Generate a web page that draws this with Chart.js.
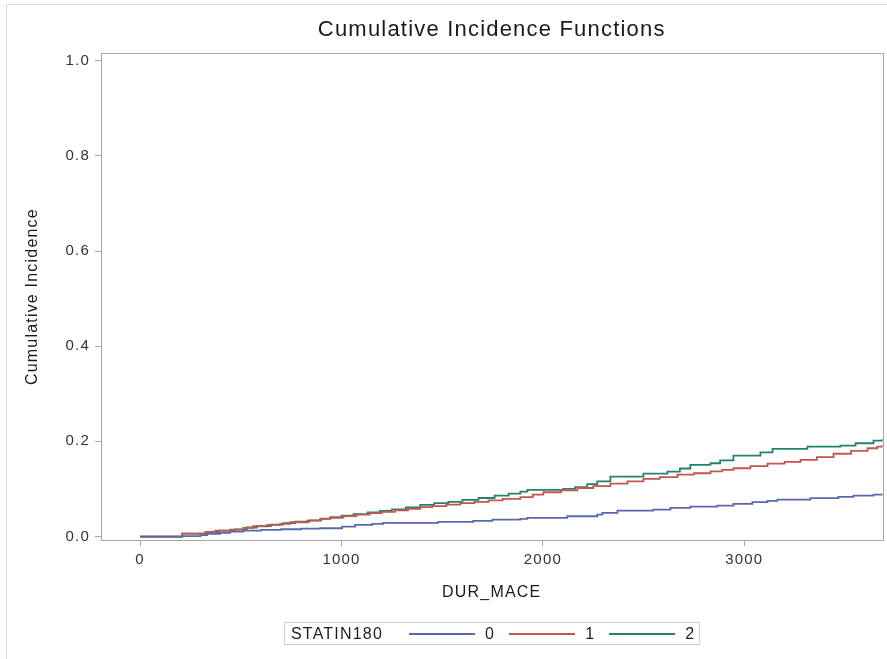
<!DOCTYPE html>
<html lang="en">
<head>
  <meta charset="UTF-8">
  <title>Cumulative Incidence Functions</title>
  <script src="https://cdn.jsdelivr.net/npm/chart.js"></script>
  <style>
    body {
      margin: 0;
      padding: 0;
      background: #fff;
      font-family: "Liberation Sans", Arial, sans-serif;
      overflow: hidden;
    }
    .wrap {
      position: relative;
      width: 887px;
      height: 659px;
    }
    .outer {
      position: absolute;
      left: 6px;
      top: 4px;
      right: 0;
      bottom: 0;
      border-left: 1px solid #d6d6d6;
      border-top: 1px solid #d6d6d6;
    }
    canvas {
      position: absolute;
      left: 0;
      top: 0;
    }
    .legend {
      position: absolute;
      left: 284px;
      top: 622px;
      width: 416px;
      height: 23px;
      border: 1px solid #cfcfcf;
      display: flex;
      align-items: center;
      font-size: 16px;
      letter-spacing: 1.2px;
      color: #222;
      box-sizing: border-box;
    }
    .legend .ttl {
      margin-left: 6px;
      margin-right: 26px;
    }
    .legend .sw {
      display: inline-block;
      width: 66px;
      height: 2px;
      margin-right: 10px;
    }
    .legend .item {
      display: flex;
      align-items: center;
      margin-right: 14px;
    }
  </style>
</head>
<body>
<div class="wrap">
  <div class="outer"></div>
  <canvas id="cif" width="887" height="659"></canvas>
  <div id="legend" class="legend"></div>
</div>

<script>
  // STATIN180 = 0
  const t0 = [0, 209, 300, 333, 397, 447, 512, 600, 700, 800, 894, 1003, 1068, 1153, 1207, 1480, 1654, 1749,
    1888, 1923, 2121, 2270, 2295, 2370, 2548, 2633, 2732, 2866, 2946, 3040, 3115, 3164, 3328, 3467, 3542, 3641, 3686];
  const cif0 = [0, 0.001, 0.003, 0.0057, 0.0078, 0.0105, 0.0126, 0.014, 0.0153, 0.0168, 0.0174, 0.021, 0.0245, 0.0266,
    0.0287, 0.0308, 0.0329, 0.0357, 0.0372, 0.0393, 0.0426, 0.0462, 0.0498, 0.0546, 0.0567, 0.0603, 0.063, 0.0651,
    0.0687, 0.0721, 0.075, 0.0777, 0.0805, 0.0834, 0.0861, 0.0882, 0.0903];

  // STATIN180 = 1
  const t1 = [0, 209, 323, 373, 447, 512, 561, 631, 695, 745, 830, 894, 944, 1010, 1075, 1140, 1200, 1265, 1330,
    1391, 1450, 1520, 1590, 1660, 1730, 1800, 1888, 1950, 2002, 2090, 2171, 2250, 2335, 2420, 2499, 2580, 2668,
    2750, 2832, 2890, 2946, 3030, 3115, 3200, 3279, 3360, 3443, 3530, 3612, 3660, 3686];
  const cif1 = [0, 0.006, 0.009, 0.0126, 0.0147, 0.0183, 0.0216, 0.0246, 0.0267, 0.030, 0.0336, 0.0372, 0.040,
    0.043, 0.046, 0.049, 0.052, 0.055, 0.058, 0.0616, 0.064, 0.067, 0.070, 0.073, 0.076, 0.079, 0.0826, 0.088,
    0.093, 0.097, 0.102, 0.106, 0.111, 0.116, 0.121, 0.125, 0.130, 0.133, 0.137, 0.140, 0.1435, 0.148, 0.153,
    0.157, 0.161, 0.167, 0.174, 0.180, 0.1855, 0.189, 0.193];

  // STATIN180 = 2
  const t2 = [0, 209, 330, 390, 470, 530, 580, 650, 710, 770, 840, 900, 944, 1000, 1060, 1130, 1190, 1250, 1320,
    1391, 1460, 1530, 1600, 1680, 1760, 1830, 1888, 1923, 2101, 2160, 2220, 2270, 2335, 2499, 2618, 2680, 2732,
    2832, 2880, 2946, 3080, 3140, 3313, 3477, 3552, 3641, 3686];
  const cif2 = [0, 0.006, 0.0095, 0.0125, 0.015, 0.019, 0.022, 0.025, 0.028, 0.031, 0.034, 0.0375, 0.040, 0.044,
    0.047, 0.0505, 0.054, 0.057, 0.061, 0.0666, 0.070, 0.073, 0.077, 0.081, 0.086, 0.090, 0.0945, 0.098, 0.100,
    0.104, 0.110, 0.116, 0.126, 0.132, 0.1365, 0.143, 0.1506, 0.154, 0.160, 0.170, 0.177, 0.184, 0.189, 0.191,
    0.196, 0.2017, 0.205];

  const groups = ['0', '1', '2'];
  const colors = ['#5a68ad', '#c5564d', '#22826f'];
  const xTicks = [0, 1000, 2000, 3000];
  const yTicks = [0, 0.2, 0.4, 0.6, 0.8, 1.0];

  const times = [t0, t1, t2];
  const values = [cif0, cif1, cif2];

  const datasets = groups.map((g, i) => ({
    label: g,
    data: times[i].map((t, j) => ({ x: t, y: values[i][j] })),
    borderColor: colors[i],
    backgroundColor: colors[i],
    borderWidth: 1.8,
    pointRadius: 0,
    stepped: true,
    fill: false
  }));

  const FONT = '"Liberation Sans", Arial, sans-serif';
  const AXIS = '#a6a6a6';

  // SAS text is a bit spaced out, and the plot area has a full box
  const framePlugin = {
    id: 'frame',
    beforeDraw(chart) {
      chart.ctx.letterSpacing = '1.2px';
    },
    afterDraw(chart) {
      const { ctx, chartArea: a } = chart;
      ctx.save();
      ctx.strokeStyle = AXIS;
      ctx.lineWidth = 1;
      ctx.strokeRect(Math.round(a.left) + 0.5, Math.round(a.top) + 0.5,
        Math.round(a.right - a.left), Math.round(a.bottom - a.top));
      ctx.restore();
    }
  };

  new Chart(document.getElementById('cif'), {
    type: 'line',
    data: { datasets },
    plugins: [framePlugin],
    options: {
      responsive: false,
      animation: false,
      layout: { padding: { left: 0, right: 4.5, top: 0, bottom: 49 } },
      plugins: {
        legend: { display: false },
        tooltip: { enabled: false },
        title: {
          display: true,
          fullSize: false,
          text: 'Cumulative Incidence Functions',
          color: '#1a1a1a',
          font: { family: FONT, size: 22, weight: 'normal', lineHeight: 1.1 },
          padding: { top: 18, bottom: 11 }
        }
      },
      scales: {
        x: {
          type: 'linear',
          min: -194,
          max: 3686,
          afterBuildTicks: s => { s.ticks = xTicks.map(v => ({ value: v })); },
          afterFit: s => { s.height = 70; },
          ticks: {
            color: '#333',
            font: { family: FONT, size: 15 },
            padding: 5,
            maxRotation: 0,
            autoSkip: false,
            callback: v => String(v)
          },
          grid: { drawOnChartArea: false, tickLength: 6, color: AXIS },
          border: { display: true, color: AXIS },
          title: {
            display: true,
            text: 'DUR_MACE',
            color: '#1a1a1a',
            font: { family: FONT, size: 16 },
            padding: { top: 0, bottom: 7.4 }
          }
        },
        y: {
          type: 'linear',
          min: -0.0073,
          max: 1.0157,
          afterBuildTicks: s => { s.ticks = yTicks.map(v => ({ value: v })); },
          afterFit: s => { s.width = 101; },
          ticks: {
            color: '#333',
            font: { family: FONT, size: 15 },
            padding: 5,
            callback: v => v.toFixed(1)
          },
          grid: { drawOnChartArea: false, tickLength: 6, color: AXIS },
          border: { display: true, color: AXIS },
          title: {
            display: true,
            text: 'Cumulative Incidence',
            color: '#1a1a1a',
            font: { family: FONT, size: 16 },
            padding: { top: 23.4, bottom: 0 }
          }
        }
      }
    }
  });

  // legend box: STATIN180 with line samples
  const legend = document.getElementById('legend');
  let html = '<span class="ttl">STATIN180</span>';
  groups.forEach((g, i) => {
    html += `<span class="item"><span class="sw" style="background:${colors[i]}"></span>${g}</span>`;
  });
  legend.innerHTML = html;
</script>
</body>
</html>
